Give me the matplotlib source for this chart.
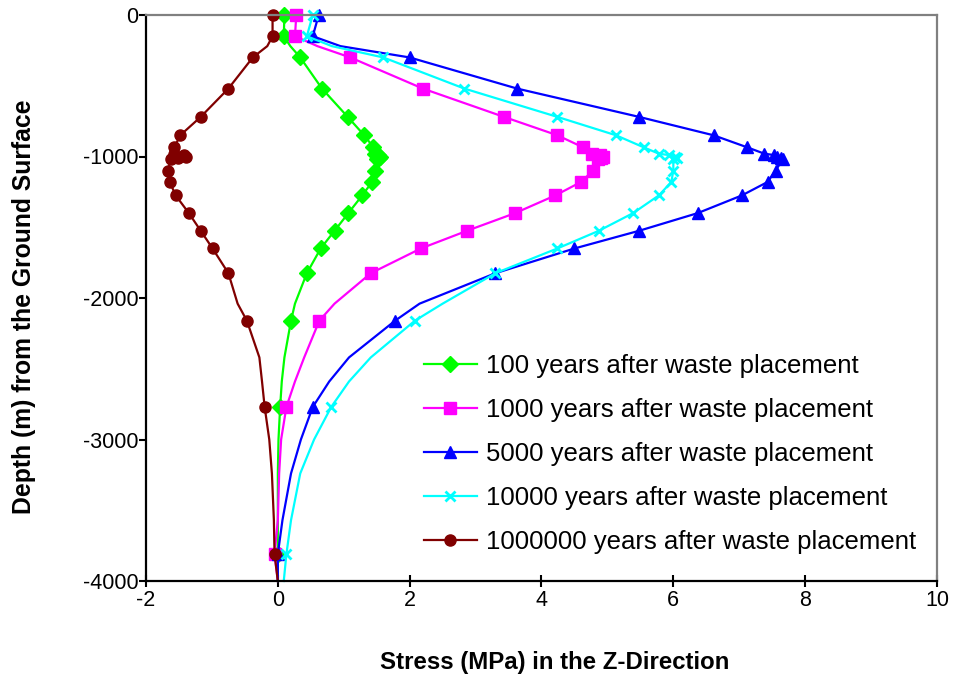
import matplotlib
matplotlib.use("Agg")
import matplotlib.pyplot as plt

plt.rcParams['font.family'] = ['Liberation Sans', 'DejaVu Sans']
plt.rcParams['axes.unicode_minus'] = False

# Depth below ground surface (m)
depth = [0, -150, -220, -300, -520, -720, -850, -935, -980, -990, -1000,
         -1010, -1020, -1100, -1180, -1275, -1400, -1525, -1650, -1825,
         -2040, -2160, -2420, -2590, -2770, -3000, -3240, -3570, -3810, -4000]

# Depth indices that carry a marker
marked = [0, 1, 3, 4, 5, 6, 7, 8, 9, 10, 11, 12, 13, 14, 15, 16, 17, 18, 19,
          21, 24, 28]

# Stress in the Z-direction (MPa)
stress_100 = [0.10, 0.09, 0.19, 0.34, 0.67, 1.06, 1.31, 1.45, 1.48, 1.52, 1.55,
              1.53, 1.50, 1.47, 1.43, 1.28, 1.07, 0.86, 0.65, 0.44,
              0.26, 0.20, 0.10, 0.06, 0.035, 0.01, 0.0, 0.0, 0.0, 0.0]
stress_1000 = [0.28, 0.26, 0.60, 1.10, 2.20, 3.43, 4.24, 4.63, 4.76, 4.88, 4.93,
               4.90, 4.85, 4.78, 4.60, 4.21, 3.60, 2.87, 2.17, 1.41,
               0.86, 0.63, 0.40, 0.26, 0.13, 0.05, 0.02, 0.0, -0.05, 0.0]
stress_5000 = [0.62, 0.53, 0.95, 2.00, 3.63, 5.48, 6.61, 7.12, 7.38, 7.53, 7.58,
               7.63, 7.66, 7.55, 7.43, 7.04, 6.37, 5.48, 4.50, 3.30,
               2.15, 1.78, 1.08, 0.78, 0.53, 0.35, 0.20, 0.07, 0.0, 0.0]
stress_10000 = [0.53, 0.44, 0.82, 1.60, 2.83, 4.24, 5.13, 5.55, 5.78, 5.93, 6.03,
                6.06, 6.00, 6.00, 5.97, 5.78, 5.39, 4.87, 4.24, 3.30,
                2.50, 2.08, 1.41, 1.08, 0.81, 0.55, 0.34, 0.20, 0.13, 0.09]
stress_1000000 = [-0.08, -0.08, -0.16, -0.38, -0.75, -1.17, -1.48, -1.57, -1.57,
                  -1.42, -1.40, -1.52, -1.62, -1.67, -1.64, -1.55, -1.35, -1.17,
                  -0.99, -0.75, -0.61, -0.47, -0.28, -0.24, -0.20, -0.13, -0.09,
                  -0.06, -0.05, 0.0]

labels = ["100 years after waste placement",
          "1000 years after waste placement",
          "5000 years after waste placement",
          "10000 years after waste placement",
          "1000000 years after waste placement"]

x_ticks = [-2, 0, 2, 4, 6, 8, 10]
y_ticks = [0, -1000, -2000, -3000, -4000]

series = [
    (stress_100, "#00FF00", "D", 8),
    (stress_1000, "#FF00FF", "s", 8),
    (stress_5000, "#0000FF", "^", 9),
    (stress_10000, "#00FFFF", "x", 7),
    (stress_1000000, "#800000", "o", 8),
]

fig = plt.figure(figsize=(9.54, 6.84), dpi=100)
ax = fig.add_axes([146 / 954, 1 - 581 / 684, (937 - 146) / 954, (581 - 15) / 684])

for (vals, color, mk, ms), lab in zip(series, labels):
    mew = 2 if mk == "x" else 1
    ax.plot(vals, depth, color=color, lw=1.6, marker=mk, markersize=ms,
            markeredgewidth=mew, markevery=marked, label=lab, clip_on=False)

ax.set_xlim(-2, 10)
ax.set_ylim(-4000, 0)
ax.set_xticks(x_ticks)
ax.set_yticks(y_ticks)
ax.tick_params(axis='x', direction='inout', length=9, width=1.5, labelsize=15.5, pad=2)
ax.tick_params(axis='y', direction='out', length=5, width=1.5, labelsize=15.5, pad=0.5)

for side in ('left', 'bottom'):
    ax.spines[side].set_color('black')
    ax.spines[side].set_linewidth(1.6)
for side in ('top', 'right'):
    ax.spines[side].set_color('#808080')
    ax.spines[side].set_linewidth(1.6)

ax.set_xlabel("Stress (MPa) in the Z-Direction", fontsize=17.3, fontweight='bold')
ax.set_ylabel("Depth (m) from the Ground Surface", fontsize=17.8, fontweight='bold')
ax.xaxis.set_label_coords((555 - 146) / 791, -(651 - 581) / 566)
ax.yaxis.set_label_coords((36 - 146) / 791, (581 - 307) / 566)

leg = ax.legend(loc='upper left', bbox_to_anchor=(424 / 954, 1 - 354 / 684),
                bbox_transform=fig.transFigure, frameon=False, fontsize=18.5,
                handlelength=2.05, handletextpad=0.38, labelspacing=0.78,
                borderpad=0, borderaxespad=0)

fig.savefig("out.png", dpi=100)
